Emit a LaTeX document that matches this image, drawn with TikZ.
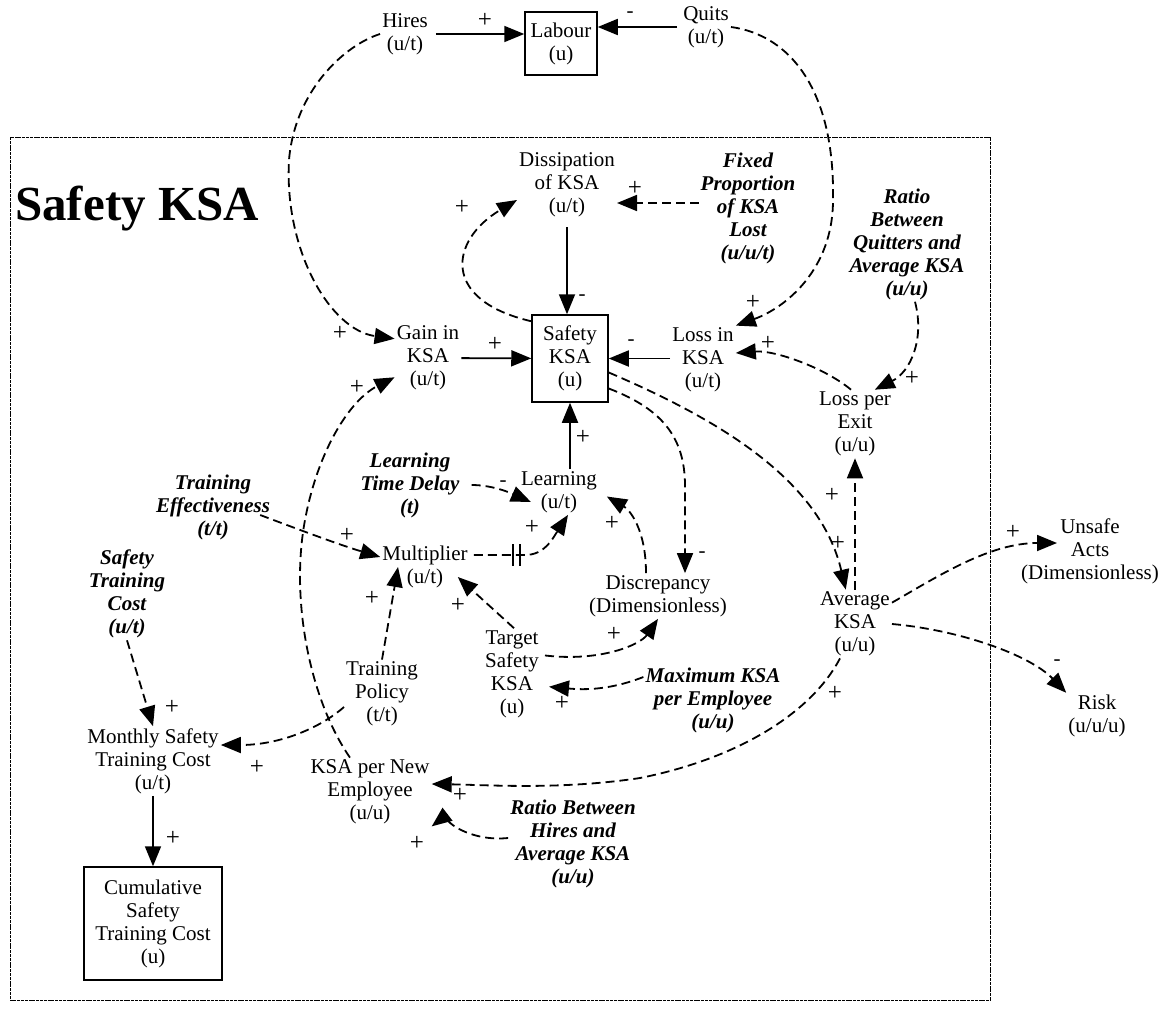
\documentclass[tikz,border=0pt]{standalone}
\usepackage{fontspec}
\setmainfont{Liberation Serif}
\usetikzlibrary{arrows.meta}
\newcommand{\fs}{\fontsize{21}{23}\selectfont}
\begin{document}
\begin{tikzpicture}[x=1pt,y=-1pt,
  every node/.style={font=\fs, align=center, inner sep=2pt},
  const/.style={font=\fs\bfseries\itshape},
  stock/.style={draw, line width=1.5pt, inner sep=4pt},
  sign/.style={font=\fontsize{25}{25}\selectfont, inner sep=0pt},
  negsign/.style={font=\fs, inner sep=0pt},
  flow/.style={draw, line width=1.8pt, -{Triangle[length=20pt,width=16pt]}},
  link/.style={draw, line width=1.8pt, dash pattern=on 9pt off 5pt, -{Triangle[length=20pt,width=16pt]}},
  frame/.style={line width=0.9pt, dash pattern=on 3pt off 0.8pt},
  delaybar/.style={line width=1.8pt}
]
\useasboundingbox (0,0) rectangle (1165,1012);

% sector boundary and title
\draw[frame] (10,137) rectangle (990,1000);
\node[anchor=base west, font=\fontsize{49}{55}\selectfont\bfseries, inner sep=0pt] (title) at (15,220) {Safety KSA};

% variables, stocks and constants
\node (hires) at (405,34) {Hires\\(u/t)};
\node[stock, minimum width=72pt, minimum height=63pt] (labour) at (561,43.5) {Labour\\(u)};
\node (quits) at (706,27) {Quits\\(u/t)};
\node (dissip) at (567,185) {Dissipation\\of KSA\\(u/t)};
\node[const] (fixed) at (748,208) {Fixed\\Proportion\\of KSA\\Lost\\(u/u/t)};
\node[const] (ratioq) at (907,244) {Ratio\\Between\\Quitters and\\Average KSA\\(u/u)};
\node[stock, minimum width=76pt, minimum height=87pt] (safety) at (570,358.5) {Safety\\KSA\\(u)};
\node (gain) at (428,358) {Gain in\\KSA\\(u/t)};
\node (loss) at (703,360) {Loss in\\KSA\\(u/t)};
\node (lpe) at (855,424) {Loss per\\Exit\\(u/u)};
\node (learning) at (559,492) {Learning\\(u/t)};
\node[const] (ltd) at (410,485) {Learning\\Time Delay\\(t)};
\node[const] (teff) at (213,507) {Training\\Effectiveness\\(t/t)};
\node (mult) at (425,567) {Multiplier\\(u/t)};
\node (discr) at (658,596) {Discrepancy\\(Dimensionless)};
\node (target) at (512,674) {Target\\Safety\\KSA\\(u)};
\node[const] (maxk) at (713,700) {Maximum KSA\\per Employee\\(u/u)};
\node (tpol) at (382,694) {Training\\Policy\\(t/t)};
\node[const] (stc) at (127,594) {Safety\\Training\\Cost\\(u/t)};
\node (monthly) at (153,761) {Monthly Safety\\Training Cost\\(u/t)};
\node (ksanew) at (370,792) {KSA per New\\Employee\\(u/u)};
\node[stock, minimum width=138pt, minimum height=113pt] (cumul) at (153,923.5) {Cumulative\\Safety\\Training Cost\\(u)};
\node[const] (ratioh) at (573,844) {Ratio Between\\Hires and\\Average KSA\\(u/u)};
\node (avg) at (855,624) {Average\\KSA\\(u/u)};
\node (unsafe) at (1090,551) {Unsafe\\Acts\\(Dimensionless)};
\node (risk) at (1097,716) {Risk\\(u/u/u)};

% material flows
\draw[flow, shorten <=6pt] (hires.east) -- (hires.east -| labour.west);
\draw[flow, shorten <=4pt] (quits.west) -- (quits.west -| labour.east);
\draw[flow, shorten <=8pt] (dissip.south) -- (dissip.south |- safety.north);
\draw[flow] (gain) -- (safety);
\draw[flow] (loss.west |- safety) -- (safety.east);
\draw[flow] (safety.south |- learning.north) -- (safety.south);
\draw[flow] (monthly.south) -- (monthly.south |- cumul.north);

% causal links
\draw[link] (hires.west) .. controls (345,45) and (295,90) .. (289,160)
  .. controls (284,250) and (330,330) .. (gain.150);
\draw[link] (quits.east) .. controls (790,35) and (835,90) .. (833,200)
  .. controls (833,270) and (785,308) .. (loss.north east);
\draw[link] ([yshift=-7pt]safety.north west) .. controls (440,300) and (450,240) .. (dissip.west |- 0,200);
\draw[link] (fixed.west |- 0,203) -- (dissip.east |- 0,203);
\draw[link] ([xshift=-4pt]lpe.north) .. controls (825,368) and (775,350) .. (loss.east |- 0,353);
\draw[link] ([xshift=8pt]ratioq.south) .. controls (925,340) and (910,372) .. (lpe.60);
\draw[link] ([yshift=-14pt]safety.east) .. controls (720,420) and (820,480) .. (avg.105);
\draw[link] (avg.north) -- (lpe.south);
\draw[link] ([yshift=-30pt]safety.east) .. controls (665,410) and (686,440) .. (685,490)
  -- ([xshift=27pt]discr.north);
\draw[link, shorten >=9pt] ([xshift=-12pt]discr.north) .. controls (646,530) and (630,510) .. (learning.east);
\draw[link, shorten <=10pt] (ltd.east) .. controls (495,485) and (515,495) .. ([xshift=12pt,yshift=-10pt]learning.west);
\draw[link, shorten <=4pt] ([yshift=12pt]mult.east) -- coordinate[pos=0.85] (dly) (525,555)
  .. controls (545,555) and (553,538) .. ([xshift=9pt]learning.south);
\draw[delaybar] ([xshift=-3.5pt,yshift=11pt]dly) -- ([xshift=-3.5pt,yshift=-11pt]dly)
  ([xshift=3.5pt,yshift=11pt]dly) -- ([xshift=3.5pt,yshift=-11pt]dly);
\draw[link] ([xshift=-12pt,yshift=-8pt]teff.east) .. controls (300,530) and (340,545) .. (mult.west |- 0,557);
\draw[link] ([xshift=2pt]target.north) -- ([xshift=-12pt,yshift=-10pt]mult.east);
\draw[link] (tpol.north) -- ([xshift=-27pt]mult.center);
\draw[link, shorten <=4pt] (target.east |- 0,655) .. controls (600,662) and (640,645) .. (discr.south);
\draw[link, shorten >=8pt] (maxk.west |- 0,677) .. controls (610,690) and (585,690) .. (target.east |- 0,686);
\draw[link] (stc.south) -- (monthly.north);
\draw[link] (tpol.west |- 0,707) .. controls (320,728) and (280,745) .. (monthly.east |- 0,745);
\draw[link] ([xshift=-20pt]ksanew.north) .. controls (310,700) and (290,600) .. (305,520)
  .. controls (318,450) and (350,400) .. (gain.210);
\draw[link] ([xshift=-15pt]avg.south) .. controls (812,712) and (740,758) .. (640,778)
  .. controls (560,790) and (490,785) .. (ksanew.east |- 0,784);
\draw[link] (ratioh.west |- 0,838) .. controls (470,842) and (440,820) .. (ksanew.south east);
\draw[link] (avg.30) .. controls (940,575) and (990,543) .. ([xshift=-33pt,yshift=8pt]unsafe.center);
\draw[link] (avg.east) .. controls (960,630) and (1030,655) .. (risk.north west);

% link polarities
\node[sign] (p1) at (485,20) {+};
\node[negsign] (p2) at (630,15) {-};
\node[sign] (p3) at (340,333) {+};
\node[sign] (p4) at (462,207) {+};
\node[sign] (p5) at (635,188) {+};
\node[negsign] (p6) at (582,298) {-};
\node[sign] (p7) at (753,302) {+};
\node[sign] (p8) at (768,343) {+};
\node[sign] (p9) at (912,378) {+};
\node[sign] (p10) at (495,344) {+};
\node[negsign] (p11) at (631,343) {-};
\node[sign] (p12) at (357,387) {+};
\node[sign] (p13) at (583,437) {+};
\node[negsign] (p14) at (503,484) {-};
\node[sign] (p15) at (532,527) {+};
\node[sign] (p16) at (612,523) {+};
\node[sign] (p17) at (347,535) {+};
\node[sign] (p18) at (372,598) {+};
\node[sign] (p19) at (458,605) {+};
\node[negsign] (p20) at (702,555) {-};
\node[sign] (p21) at (614,634) {+};
\node[sign] (p22) at (562,703) {+};
\node[sign] (p23) at (832,495) {+};
\node[sign] (p24) at (838,543) {+};
\node[sign] (p25) at (1013,532) {+};
\node[negsign] (p26) at (1057,663) {-};
\node[sign] (p27) at (172,707) {+};
\node[sign] (p28) at (257,767) {+};
\node[sign] (p29) at (835,693) {+};
\node[sign] (p30) at (460,795) {+};
\node[sign] (p31) at (417,843) {+};
\node[sign] (p32) at (173,838) {+};
\end{tikzpicture}
\end{document}
